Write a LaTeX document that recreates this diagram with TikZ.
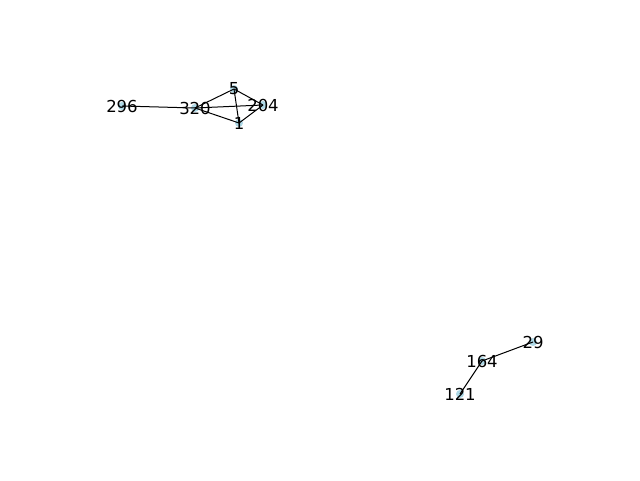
\documentclass[tikz,border=0pt]{standalone}
\usepackage{fontspec}
\setmainfont{DejaVu Sans}
\begin{document}
\begin{tikzpicture}[x=1pt,y=1pt,
  vert/.style={circle,fill={rgb,255:red,173;green,216;blue,230},inner sep=0pt,minimum size=8pt},
  lbl/.style={font=\fontsize{16.5}{18}\selectfont,inner sep=0pt,text=black},
  edge/.style={draw=black,line width=1pt}]
\useasboundingbox (0,0) rectangle (640,480);
\node[vert] (n296) at (122,374) {};
\node[vert] (n320) at (195,372) {};
\node[vert] (n5) at (234,391) {};
\node[vert] (n204) at (263,375) {};
\node[vert] (n1) at (239,357) {};
\node[vert] (n29) at (533,138) {};
\node[vert] (n164) at (482,119) {};
\node[vert] (n121) at (460,86) {};
\draw[edge] (n296.center) -- (n320.center);
\draw[edge] (n320.center) -- (n5.center);
\draw[edge] (n320.center) -- (n204.center);
\draw[edge] (n320.center) -- (n1.center);
\draw[edge] (n5.center) -- (n204.center);
\draw[edge] (n5.center) -- (n1.center);
\draw[edge] (n204.center) -- (n1.center);
\draw[edge] (n164.center) -- (n29.center);
\draw[edge] (n164.center) -- (n121.center);
\node[lbl] (t296) at (n296) {296};
\node[lbl] (t320) at (n320) {320};
\node[lbl] (t5) at (n5) {5};
\node[lbl] (t204) at (n204) {204};
\node[lbl] (t1) at (n1) {1};
\node[lbl] (t29) at (n29) {29};
\node[lbl] (t164) at (n164) {164};
\node[lbl] (t121) at (n121) {121};
\end{tikzpicture}
\end{document}
